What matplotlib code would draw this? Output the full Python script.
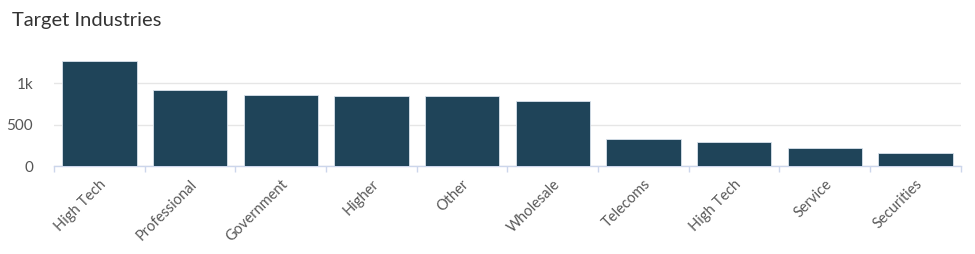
import numpy as np
import matplotlib.pyplot as plt
from matplotlib.ticker import FixedLocator, FuncFormatter

industries = ['High Tech', 'Professional', 'Government', 'Higher', 'Other',
              'Wholesale', 'Telecoms', 'High Tech', 'Service', 'Securities']
counts = [1265, 916, 855, 843, 843, 783, 325, 289, 217, 157]
ytick_vals = [0, 500, 1000]

plt.rcParams['font.family'] = ['Lato', 'DejaVu Sans']

fig = plt.figure(figsize=(9.75, 2.54), dpi=100)
ax = fig.add_axes([0.0554, 0.346, 0.930, 0.437])

x = np.arange(len(industries))
ax.bar(x, counts, width=0.82, color='#1f4459', edgecolor='#d9e2ec', linewidth=0.6, zorder=3)

ax.set_xlim(-0.5, len(industries) - 0.5)
ax.set_ylim(0, 1337)
ax.set_yticks(ytick_vals)
ax.yaxis.set_major_formatter(FuncFormatter(lambda v, p: '1k' if v == 1000 else '%d' % v))
ax.grid(axis='y', color='#e6e6e6', linewidth=1, zorder=0)

ax.set_xticks(x)
ax.set_xticklabels(industries, rotation=45, ha='right', rotation_mode='anchor')
ax.xaxis.set_minor_locator(FixedLocator(np.arange(-0.5, len(industries), 1.0)))
ax.tick_params(axis='x', which='major', length=0, pad=8, labelsize=10.5, labelcolor='#5a5a5a')
ax.tick_params(axis='x', which='minor', length=4, color='#ccd6eb', width=1)
ax.tick_params(axis='y', length=0, pad=15, labelsize=11, labelcolor='#555555')

for s in ['top', 'right', 'left']:
    ax.spines[s].set_visible(False)
ax.spines['bottom'].set_color('#ccd6eb')
ax.spines['bottom'].set_linewidth(1)

fig.text(0.0123, 0.92, 'Target Industries', fontsize=14.5, color='#333333', va='center')

fig.savefig('out.png', dpi=100)
